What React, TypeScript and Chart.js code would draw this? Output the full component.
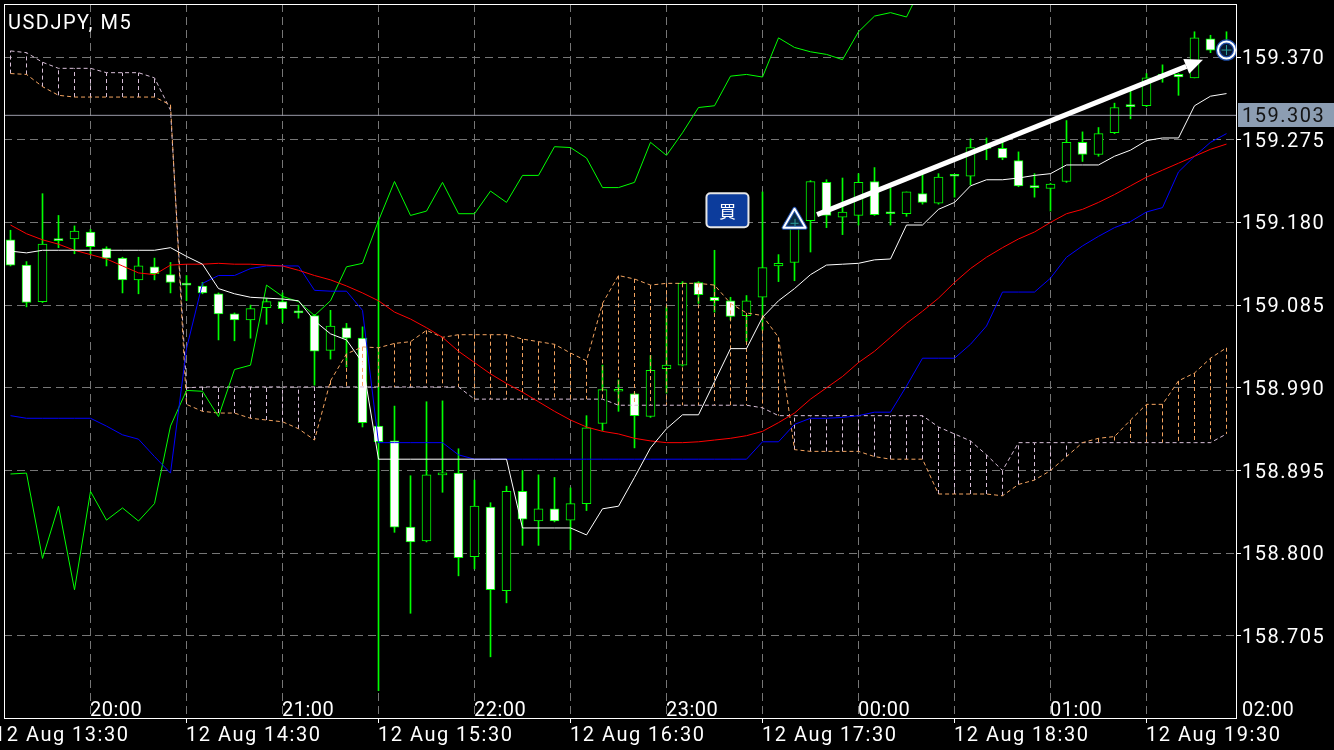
import { useEffect, useRef } from "react";
import { Chart, registerables } from "chart.js";
Chart.register(...registerables);

// ── Scale setup ───────────────────────────────────────────────────────────────

const Y_MIN = 158.6107;
const Y_MAX = 159.4309;
const Y_TICKS = [159.37, 159.275, 159.18, 159.085, 158.99, 158.895, 158.8, 158.705];
const CURRENT_PRICE = 159.303;

// x is the bar index (M5 bars, 0 = first visible bar)
const X_MIN = -0.40625;
const X_MAX = 76.59375;
const GRID_K = [5, 11, 17, 23, 29, 35, 41, 47, 53, 59, 65, 71];
const HOUR_K = [5, 17, 29, 41, 53, 65, 77];
const HOUR_LABELS = ["20:00", "21:00", "22:00", "23:00", "00:00", "01:00", "02:00"];
const DATE_K = [-1, 11, 23, 35, 47, 59, 71];
const DATE_LABELS = [
  "12 Aug 13:30", "12 Aug 14:30", "12 Aug 15:30", "12 Aug 16:30",
  "12 Aug 17:30", "12 Aug 18:30", "12 Aug 19:30",
];

// ── Candles ───────────────────────────────────────────────────────────────────

const OPEN = [
  159.160, 159.131, 159.089, 159.159, 159.161, 159.169, 159.150, 159.139, 159.114, 159.129,
  159.120, 159.108, 159.107, 159.098, 159.075, 159.068, 159.082, 159.089, 159.076, 159.073,
  159.033, 159.059, 159.047, 158.946, 158.929, 158.830, 158.814, 158.890, 158.892, 158.796,
  158.853, 158.757, 158.871, 158.837, 158.851, 158.838, 158.857, 158.949, 158.986, 158.983,
  158.957, 159.012, 159.016, 159.111, 159.094, 159.090, 159.073, 159.094, 159.130, 159.134,
  159.182, 159.226, 159.186, 159.188, 159.227, 159.190, 159.190, 159.213, 159.202, 159.233,
  159.233, 159.265, 159.265, 159.251, 159.220, 159.219, 159.227, 159.272, 159.258, 159.283,
  159.313, 159.314, 159.348, 159.350, 159.346, 159.391, 159.379,
];
const HIGH = [
  159.171, 159.135, 159.213, 159.188, 159.176, 159.172, 159.152, 159.140, 159.140, 159.139,
  159.134, 159.119, 159.111, 159.099, 159.076, 159.085, 159.093, 159.099, 159.085, 159.074,
  159.079, 159.064, 159.060, 159.182, 158.969, 158.889, 158.974, 158.975, 158.920, 158.884,
  158.858, 158.877, 158.895, 158.890, 158.887, 158.875, 158.958, 159.016, 158.999, 158.984,
  159.027, 159.083, 159.112, 159.112, 159.148, 159.094, 159.096, 159.215, 159.143, 159.177,
  159.228, 159.229, 159.231, 159.236, 159.243, 159.220, 159.215, 159.235, 159.236, 159.234,
  159.276, 159.277, 159.277, 159.261, 159.236, 159.225, 159.297, 159.284, 159.289, 159.317,
  159.332, 159.351, 159.361, 159.351, 159.399, 159.395, 159.399,
];
const LOW = [
  159.130, 159.083, 159.088, 159.151, 159.144, 159.143, 159.130, 159.099, 159.098, 159.114,
  159.099, 159.090, 159.098, 159.045, 159.044, 159.047, 159.063, 159.065, 159.070, 158.993,
  159.023, 159.014, 158.945, 158.642, 158.824, 158.731, 158.813, 158.870, 158.774, 158.782,
  158.681, 158.743, 158.809, 158.809, 158.836, 158.804, 158.849, 158.941, 158.963, 158.921,
  158.956, 158.984, 159.015, 159.087, 159.077, 159.068, 159.043, 159.056, 159.112, 159.113,
  159.146, 159.174, 159.166, 159.177, 159.188, 159.177, 159.187, 159.201, 159.201, 159.209,
  159.223, 159.252, 159.252, 159.221, 159.209, 159.193, 159.226, 159.250, 159.256, 159.282,
  159.299, 159.313, 159.341, 159.326, 159.346, 159.375, 159.370,
];
const CLOSE = [
  159.131, 159.088, 159.155, 159.159, 159.170, 159.152, 159.139, 159.114, 159.130, 159.121,
  159.111, 159.108, 159.099, 159.075, 159.068, 159.081, 159.089, 159.081, 159.076, 159.032,
  159.061, 159.047, 158.950, 158.928, 158.830, 158.813, 158.890, 158.892, 158.795, 158.854,
  158.758, 158.871, 158.839, 158.851, 158.837, 158.857, 158.944, 158.988, 158.988, 158.958,
  159.010, 159.016, 159.110, 159.097, 159.090, 159.072, 159.090, 159.128, 159.133, 159.174,
  159.227, 159.188, 159.192, 159.226, 159.189, 159.190, 159.215, 159.203, 159.232, 159.233,
  159.266, 159.265, 159.254, 159.222, 159.220, 159.224, 159.272, 159.258, 159.282, 159.312,
  159.313, 159.346, 159.348, 159.347, 159.392, 159.378, 159.379,
];

// ── Indicators ────────────────────────────────────────────────────────────────

const TENKAN = [
  159.147, 159.145, 159.148, 159.148, 159.148, 159.148, 159.148, 159.148, 159.148, 159.148,
  159.151, 159.141, 159.132, 159.104, 159.098, 159.094, 159.093, 159.092, 159.090, 159.067,
  159.052, 159.045, 159.019, 158.908, 158.908, 158.908, 158.908, 158.908, 158.908, 158.908,
  158.908, 158.908, 158.829, 158.829, 158.829, 158.829, 158.821, 158.851, 158.854, 158.887,
  158.921, 158.943, 158.959, 158.959, 158.997, 159.035, 159.035, 159.071, 159.090, 159.104,
  159.120, 159.131, 159.132, 159.133, 159.137, 159.138, 159.177, 159.177, 159.195, 159.203,
  159.222, 159.229, 159.229, 159.231, 159.234, 159.236, 159.246, 159.246, 159.246, 159.256,
  159.263, 159.274, 159.277, 159.277, 159.314, 159.325, 159.328,
];
const KIJUN = [
  158.958, 158.955, 158.955, 158.955, 158.955, 158.955, 158.946, 158.936, 158.931, 158.911,
  158.892, 159.035, 159.110, 159.119, 159.119, 159.127, 159.130, 159.130, 159.130, 159.102,
  159.101, 159.101, 159.079, 158.927, 158.927, 158.927, 158.927, 158.927, 158.913, 158.908,
  158.908, 158.908, 158.908, 158.908, 158.908, 158.908, 158.908, 158.908, 158.908, 158.908,
  158.908, 158.908, 158.908, 158.908, 158.908, 158.908, 158.908, 158.928, 158.928, 158.948,
  158.955, 158.955, 158.956, 158.958, 158.962, 158.962, 158.992, 159.024, 159.024, 159.024,
  159.040, 159.061, 159.100, 159.100, 159.100, 159.116, 159.140, 159.153, 159.164, 159.174,
  159.181, 159.192, 159.197, 159.238, 159.256, 159.272, 159.282,
];
const SMA = [
  159.177, 159.167, 159.160, 159.155, 159.148, 159.143, 159.138, 159.130, 159.122, 159.120,
  159.131, 159.132, 159.132, 159.133, 159.132, 159.132, 159.131, 159.130, 159.125, 159.119,
  159.114, 159.107, 159.099, 159.090, 159.077, 159.069, 159.059, 159.048, 159.032, 159.019,
  159.006, 158.995, 158.985, 158.974, 158.963, 158.953, 158.945, 158.940, 158.937, 158.932,
  158.929, 158.927, 158.927, 158.928, 158.930, 158.932, 158.935, 158.940, 158.950, 158.961,
  158.977, 158.990, 159.003, 159.019, 159.032, 159.048, 159.064, 159.078, 159.093, 159.111,
  159.127, 159.140, 159.151, 159.161, 159.169, 159.180, 159.190, 159.195, 159.203, 159.212,
  159.222, 159.232, 159.240, 159.248, 159.256, 159.264, 159.270,
];
const CHIKOU = [
  158.891, 158.892, 158.794, 158.854, 158.758, 158.871, 158.838, 158.852, 158.837, 158.857,
  158.946, 158.987, 158.986, 158.957, 159.011, 159.016, 159.108, 159.095, 159.089, 159.073,
  159.090, 159.129, 159.133, 159.182, 159.227, 159.188, 159.193, 159.226, 159.190, 159.190,
  159.216, 159.203, 159.234, 159.234, 159.267, 159.266, 159.254, 159.220, 159.220, 159.226,
  159.272, 159.257, 159.283, 159.312, 159.314, 159.348, 159.350, 159.347, 159.392, 159.381,
  159.376, 159.373, 159.367, 159.399, 159.417, 159.421, 159.416, 159.453,
];
const SENKOU_A = [
  159.351, 159.350, 159.336, 159.326, 159.324, 159.324, 159.324, 159.324, 159.324, 159.324,
  159.315, 158.971, 158.963, 158.961, 158.961, 158.955, 158.953, 158.951, 158.943, 158.930,
  158.998, 159.029, 159.037, 159.036, 159.041, 159.043, 159.056, 159.048, 159.051, 159.051,
  159.051, 159.051, 159.046, 159.043, 159.040, 159.030, 159.021, 159.087, 159.119, 159.115,
  159.108, 159.110, 159.110, 159.110, 159.108, 159.087, 159.076, 159.073, 159.048, 158.919,
  158.917, 158.917, 158.917, 158.917, 158.911, 158.908, 158.908, 158.908, 158.868, 158.868,
  158.868, 158.868, 158.866, 158.879, 158.884, 158.895, 158.911, 158.927, 158.932, 158.934,
  158.953, 158.971, 158.971, 158.998, 159.007, 159.024, 159.036,
];
const SENKOU_B = [
  159.377, 159.375, 159.364, 159.357, 159.357, 159.357, 159.352, 159.352, 159.352, 159.346,
  159.309, 158.990, 158.991, 158.991, 158.991, 158.991, 158.991, 158.991, 158.991, 158.991,
  158.991, 158.991, 158.991, 158.991, 158.991, 158.991, 158.991, 158.991, 158.991, 158.977,
  158.977, 158.977, 158.977, 158.977, 158.977, 158.977, 158.977, 158.977, 158.970, 158.970,
  158.970, 158.970, 158.970, 158.970, 158.970, 158.970, 158.970, 158.967, 158.958, 158.958,
  158.958, 158.958, 158.958, 158.958, 158.958, 158.958, 158.958, 158.958, 158.945, 158.937,
  158.929, 158.913, 158.895, 158.927, 158.927, 158.927, 158.927, 158.927, 158.927, 158.927,
  158.927, 158.927, 158.927, 158.927, 158.927, 158.927, 158.937,
];

// ── Chart objects (anchored to bar index / price) ─────────────────────────────

const BUY_SIGN = { k: 44.81, price: 159.194, text: "買" };
const ENTRY_MARK = { k: 49, price: 159.183 };
const TREND_FROM = { k: 50.41, price: 159.189 };
const TREND_TO = { k: 74.53, price: 159.367 };
const LAST_MARK = { k: 76, price: 159.378 };
const TITLE = "USDJPY, M5";

// ── Colours ───────────────────────────────────────────────────────────────────

const BG = "#000000";
const GRID = "#767676";
const LIME = "#00ff00";
const RED = "#ff0000";
const BLUE = "#0000ff";
const WHITE = "#ffffff";
const SANDY = "#f4a460";
const THISTLE = "#d8bfd8";
const PRICE_LINE = "#9a9aa8";
const PRICE_TAG = "#8c9db2";
const FONT = "Roboto, 'Liberation Sans', sans-serif";

const overlay = {
  id: "overlay",
  beforeDraw(chart: any) {
    const { ctx, width, height } = chart;
    ctx.save();
    ctx.fillStyle = BG;
    ctx.fillRect(0, 0, width, height);
    ctx.restore();
    ctx.letterSpacing = "1.5px";
  },
  afterDatasetsDraw(chart: any) {
    const { ctx } = chart;
    const xs = chart.scales.x;
    const ys = chart.scales.y;
    const px = (k: number) => xs.getPixelForValue(k);
    const py = (p: number) => ys.getPixelForValue(p);
    ctx.save();

    // trend arrow
    const x1 = px(TREND_FROM.k), y1 = py(TREND_FROM.price);
    const x2 = px(TREND_TO.k), y2 = py(TREND_TO.price);
    const a = Math.atan2(y2 - y1, x2 - x1);
    const head = 18, half = 8;
    ctx.strokeStyle = WHITE;
    ctx.fillStyle = WHITE;
    ctx.lineWidth = 5;
    ctx.beginPath();
    ctx.moveTo(x1, y1);
    ctx.lineTo(x2 - head * Math.cos(a), y2 - head * Math.sin(a));
    ctx.stroke();
    ctx.beginPath();
    ctx.moveTo(x2, y2);
    ctx.lineTo(x2 - head * Math.cos(a) + half * Math.sin(a), y2 - head * Math.sin(a) - half * Math.cos(a));
    ctx.lineTo(x2 - head * Math.cos(a) - half * Math.sin(a), y2 - head * Math.sin(a) + half * Math.cos(a));
    ctx.closePath();
    ctx.fill();

    // buy sign
    const bx = px(BUY_SIGN.k), by = py(BUY_SIGN.price);
    ctx.beginPath();
    ctx.roundRect(bx - 21, by - 17, 42, 34, 4);
    ctx.fillStyle = "#0c3c9c";
    ctx.fill();
    ctx.lineWidth = 2;
    ctx.strokeStyle = "#e6e6e6";
    ctx.stroke();
    ctx.letterSpacing = "0px";
    ctx.fillStyle = WHITE;
    ctx.font = "17px 'Noto Sans CJK JP'";
    ctx.textAlign = "center";
    ctx.textBaseline = "middle";
    ctx.fillText(BUY_SIGN.text, bx, by + 1);

    // entry triangle
    const tx = px(ENTRY_MARK.k), ty = py(ENTRY_MARK.price);
    ctx.beginPath();
    ctx.moveTo(tx, ty - 11);
    ctx.lineTo(tx + 11, ty + 8);
    ctx.lineTo(tx - 11, ty + 8);
    ctx.closePath();
    ctx.fillStyle = "#0b2a3e";
    ctx.fill();
    ctx.lineJoin = "round";
    ctx.strokeStyle = "#1f4ea8";
    ctx.lineWidth = 4;
    ctx.stroke();
    ctx.strokeStyle = WHITE;
    ctx.lineWidth = 2;
    ctx.stroke();
    ctx.strokeStyle = "#2a9d9a";
    ctx.lineWidth = 1;
    ctx.beginPath();
    ctx.moveTo(tx - 4, ty + 3.5);
    ctx.lineTo(tx + 4, ty + 3.5);
    ctx.moveTo(tx + 0.5, ty - 1);
    ctx.lineTo(tx + 0.5, ty + 7);
    ctx.stroke();

    // last bar marker
    const cx = px(LAST_MARK.k), cy = py(LAST_MARK.price);
    ctx.beginPath();
    ctx.arc(cx, cy, 8.5, 0, Math.PI * 2);
    ctx.fillStyle = "#07142e";
    ctx.fill();
    ctx.strokeStyle = "#1f4ea8";
    ctx.lineWidth = 4.5;
    ctx.stroke();
    ctx.strokeStyle = WHITE;
    ctx.lineWidth = 2;
    ctx.stroke();
    ctx.strokeStyle = "#2a9d9a";
    ctx.lineWidth = 1;
    ctx.beginPath();
    ctx.moveTo(cx - 5, cy);
    ctx.lineTo(cx + 5, cy);
    ctx.moveTo(cx, cy - 5);
    ctx.lineTo(cx, cy + 5);
    ctx.stroke();

    ctx.restore();
  },
  afterDraw(chart: any) {
    const { ctx, chartArea: ca, width } = chart;
    const xs = chart.scales.x;
    const ys = chart.scales.y;
    ctx.save();

    // frame
    ctx.strokeStyle = WHITE;
    ctx.lineWidth = 1;
    ctx.strokeRect(ca.left + 0.5, ca.top + 0.5, ca.right - ca.left, ca.bottom - ca.top);

    // current price tag
    const yp = ys.getPixelForValue(CURRENT_PRICE);
    ctx.fillStyle = PRICE_TAG;
    ctx.fillRect(ca.right + 2, Math.round(yp) - 12, width - ca.right - 2, 24);
    ctx.fillStyle = "#141414";
    ctx.font = `20px ${FONT}`;
    ctx.letterSpacing = "1.5px";
    ctx.textAlign = "left";
    ctx.textBaseline = "middle";
    ctx.fillText(CURRENT_PRICE.toFixed(3), ca.right + 6, yp + 2);

    // time labels
    ctx.fillStyle = WHITE;
    ctx.textBaseline = "alphabetic";
    ctx.letterSpacing = "0.5px";
    HOUR_K.forEach((k, i) => {
      ctx.fillText(HOUR_LABELS[i], xs.getPixelForValue(k) - 0.5, ca.bottom - 2);
    });
    ctx.letterSpacing = "1.5px";
    DATE_K.forEach((k, i) => {
      ctx.fillText(DATE_LABELS[i], xs.getPixelForValue(k) - 0.5, ca.bottom + 23);
    });

    // title
    ctx.fillText(TITLE, 8, 29);
    ctx.restore();
  },
};

export default function App() {
  const ref = useRef<HTMLCanvasElement>(null);
  const chartRef = useRef<Chart | null>(null);

  useEffect(() => {
    if (!ref.current) return;
    chartRef.current?.destroy();

    const pts = (arr: number[]) => arr.map((v, i) => ({ x: i, y: v }));
    const hatch = (up: boolean) => {
      const out: { x: number; y: number | null }[] = [];
      SENKOU_A.forEach((a, i) => {
        const b = SENKOU_B[i];
        if ((a >= b) === up) out.push({ x: i, y: a }, { x: i, y: b }, { x: i, y: null });
      });
      return out;
    };
    const lineStyle = { pointRadius: 0, borderWidth: 1, tension: 0, spanGaps: false };

    chartRef.current = new Chart(ref.current, {
      type: "bar",
      data: {
        datasets: [
          {
            type: "bar",
            label: "wick",
            data: OPEN.map((_, i) => ({ x: i, y: [LOW[i], HIGH[i]] })),
            backgroundColor: LIME,
            borderWidth: 0,
            barThickness: 1,
            grouped: false,
            order: 20,
          },
          {
            type: "bar",
            label: "body",
            data: OPEN.map((o, i) => ({ x: i, y: [o, CLOSE[i]] })),
            backgroundColor: OPEN.map((o, i) => (CLOSE[i] > o ? BG : WHITE)),
            borderColor: LIME,
            borderWidth: 1,
            borderSkipped: false,
            barThickness: 9,
            minBarLength: 2,
            grouped: false,
            order: 19,
          },
          { type: "line", label: "kumo up", data: hatch(true), borderColor: SANDY, borderDash: [4, 3], ...lineStyle, order: 15 },
          { type: "line", label: "kumo down", data: hatch(false), borderColor: THISTLE, borderDash: [4, 3], ...lineStyle, order: 15 },
          { type: "line", label: "senkou A", data: pts(SENKOU_A), borderColor: SANDY, borderDash: [4, 3], ...lineStyle, order: 14 },
          { type: "line", label: "senkou B", data: pts(SENKOU_B), borderColor: THISTLE, borderDash: [4, 3], ...lineStyle, order: 14 },
          {
            type: "line",
            label: "price",
            data: [{ x: X_MIN, y: CURRENT_PRICE }, { x: X_MAX, y: CURRENT_PRICE }],
            borderColor: PRICE_LINE,
            ...lineStyle,
            order: 13,
          },
          { type: "line", label: "chikou", data: pts(CHIKOU), borderColor: LIME, ...lineStyle, order: 12 },
          { type: "line", label: "kijun", data: pts(KIJUN), borderColor: BLUE, ...lineStyle, order: 11 },
          { type: "line", label: "sma", data: pts(SMA), borderColor: RED, ...lineStyle, order: 10 },
          { type: "line", label: "tenkan", data: pts(TENKAN), borderColor: WHITE, ...lineStyle, order: 9 },
        ] as any,
      },
      options: {
        animation: false,
        responsive: false,
        events: [],
        layout: { padding: { left: 4, top: 4, right: 0, bottom: 0 } },
        plugins: { legend: { display: false }, tooltip: { enabled: false } },
        scales: {
          x: {
            type: "linear",
            min: X_MIN,
            max: X_MAX,
            offset: false,
            afterBuildTicks: (s: any) => { s.ticks = GRID_K.map((v) => ({ value: v })); },
            afterFit: (s: any) => {
              s.height = 32;
              s.paddingLeft = 0;
              s.paddingRight = 0;
            },
            ticks: { display: false, autoSkip: false },
            grid: {
              offset: false,
              color: GRID,
              tickLength: 5,
              tickColor: (c: any) => (DATE_K.includes(c.tick?.value) ? WHITE : "rgba(0,0,0,0)"),
            },
            border: { display: false, dash: [8, 5] },
          },
          y: {
            type: "linear",
            position: "right",
            min: Y_MIN,
            max: Y_MAX,
            beginAtZero: false,
            afterBuildTicks: (s: any) => { s.ticks = Y_TICKS.map((v) => ({ value: v })); },
            afterFit: (s: any) => {
              s.width = 98;
              s.paddingTop = 0;
              s.paddingBottom = 0;
            },
            ticks: {
              color: WHITE,
              autoSkip: false,
              padding: 1,
              labelOffset: 2,
              font: { family: FONT, size: 20 },
              callback: (v: any) => Number(v).toFixed(3),
            },
            grid: { color: GRID, tickLength: 5, tickColor: WHITE },
            border: { display: false, dash: [8, 5] },
          },
        },
      } as any,
      plugins: [overlay],
    });

    return () => chartRef.current?.destroy();
  }, []);

  return (
    <div style={{ position: "fixed", left: 0, top: 0, width: 1334, height: 750, background: BG }}>
      <canvas ref={ref} width={1334} height={750} style={{ display: "block" }} />
    </div>
  );
}
